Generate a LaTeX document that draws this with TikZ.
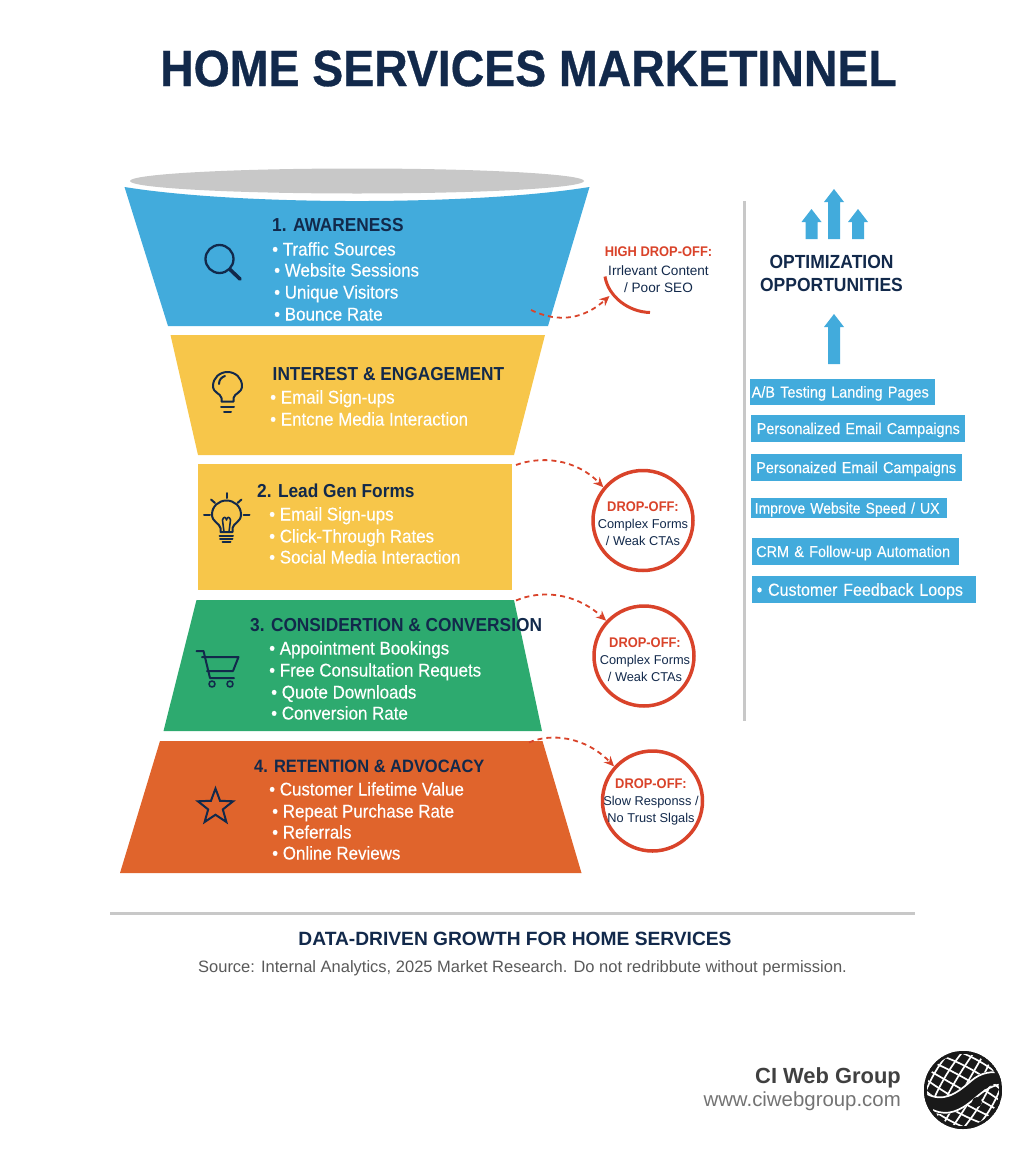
\documentclass[tikz,border=0pt]{standalone}
\usepackage{fontspec}
\setmainfont{Liberation Sans}
\newfontfamily\titlefont[FakeStretch=0.91,FakeBold=0.6]{Liberation Sans}
\newfontfamily\headfont[FakeStretch=0.92]{Liberation Sans}
\newfontfamily\bulletfont[FakeStretch=0.92,FakeBold=0.25]{Liberation Sans}
\usetikzlibrary{shapes.geometric,arrows.meta}
\definecolor{navy}{HTML}{12294B}
\definecolor{funnelblue}{HTML}{42ABDC}
\definecolor{funnelyellow}{HTML}{F7C64A}
\definecolor{funnelgreen}{HTML}{2DAA6F}
\definecolor{funnelorange}{HTML}{E0642C}
\definecolor{dropred}{HTML}{D9432A}
\definecolor{rulegray}{HTML}{C8C8C8}
\tikzset{
  stagehead/.style={anchor=west,inner sep=0pt,text=navy,text height=13pt,text depth=0pt,font=\headfont\bfseries\fontsize{18.8}{22}\selectfont},
  bulletline/.style={anchor=west,inner sep=0pt,text=white,text height=13pt,text depth=0pt,font=\bulletfont\fontsize{18.4}{20}\selectfont},
  icon/.style={draw=navy,line width=2pt,line cap=round,line join=round},
  dropline/.style={draw=dropred,line width=1.8pt,dash pattern=on 5pt off 4pt,-{Stealth[length=10pt,width=9pt]}},
  dropcircle/.style={circle,draw=dropred,line width=3.5pt,fill=white,minimum size=100pt,inner sep=0pt},
  droptext/.style={align=center,text=navy,inner sep=0pt,font=\fontsize{12.8}{17}\selectfont},
  drophead/.style={text=dropred,font=\headfont\bfseries\fontsize{14}{17}\selectfont},
  optbox/.style n args={3}{anchor=west,fill=funnelblue,text=white,inner ysep=0pt,inner xsep=#3,text width=#1,text height=11pt,text depth=0pt,minimum height=#2,font=\bulletfont\fontsize{15.7}{18}\selectfont},
}
\begin{document}
\begin{tikzpicture}[x=1pt,y=-1pt]
  \useasboundingbox (0,0) rectangle (1024,1154);
  \node[text=navy,font=\titlefont\bfseries\fontsize{51}{56}\selectfont] (title) at (528.5,68.5) {HOME SERVICES MARKETINNEL};

  \fill[rulegray] (357,181) ellipse (227 and 12.5);
  \fill[funnelblue] (124.5,187) .. controls (240,205.7) and (474,205.7) .. (589.5,187) -- (548,326) -- (168,326) -- cycle;
  \fill[funnelyellow] (170.5,335) -- (545,335) -- (514,455) -- (198,455) -- cycle;
  \fill[funnelyellow] (198,464) rectangle (512,590);
  \fill[funnelgreen] (196.5,600) -- (514,600) -- (542,731) -- (163.5,731) -- cycle;
  \fill[funnelorange] (160,741) -- (542.5,741) -- (581.5,873) -- (120,873) -- cycle;

  \node[stagehead] (awarehead) at (272,225) {1. AWARENESS};
  \node[bulletline] (awareone) at (272,249) {•\ Traffic Sources};
  \node[bulletline] (awaretwo) at (274,270) {•\ Website Sessions};
  \node[bulletline] (awarethree) at (274,292) {•\ Unique Visitors};
  \node[bulletline] (awarefour) at (274,314) {•\ Bounce Rate};

  \node[stagehead] (interesthead) at (272.5,374) {INTEREST \& ENGAGEMENT};
  \node[bulletline] (interestone) at (270,397) {•\ Email Sign-ups};
  \node[bulletline] (interesttwo) at (270,419) {•\ Entcne Media Interaction};

  \node[stagehead] (leadhead) at (257,491) {2. Lead Gen Forms};
  \node[bulletline] (leadone) at (269,514) {•\ Email Sign-ups};
  \node[bulletline] (leadtwo) at (269,536) {•\ Click-Through Rates};
  \node[bulletline] (leadthree) at (269,557) {•\ Social Media Interaction};

  \node[stagehead] (conshead) at (250,625) {3. CONSIDERTION \& CONVERSION};
  \node[bulletline] (consone) at (269,648) {•\ Appointment Bookings};
  \node[bulletline] (constwo) at (269,670) {•\ Free Consultation Requets};
  \node[bulletline] (consthree) at (271,692) {•\ Quote Downloads};
  \node[bulletline] (consfour) at (271,713) {•\ Conversion Rate};

  \node[stagehead,font=\headfont\bfseries\fontsize{17.9}{22}\selectfont] (retainhead) at (254,766) {4. RETENTION \& ADVOCACY};
  \node[bulletline] (retainone) at (269,789) {•\ Customer Lifetime Value};
  \node[bulletline] (retaintwo) at (272,811) {•\ Repeat Purchase Rate};
  \node[bulletline] (retainthree) at (272,832) {•\ Referrals};
  \node[bulletline] (retainfour) at (272,853) {•\ Online Reviews};

  \draw[icon,line width=2.3pt] (219.5,259) circle (14);
  \draw[icon,line width=3.6pt] (230,269.5) -- (240,279);

  \draw[icon] (221.5,401.5) -- (221.5,398) .. controls (220.5,393) and (213,393) .. (213,386) .. controls (213,378) and (219.5,372) .. (227.5,372) .. controls (235.5,372) and (242,378) .. (242,386) .. controls (242,393) and (234.5,393) .. (233.5,398) -- (233.5,401.5) -- cycle;
  \draw[icon] (219,384) .. controls (219,380) and (221.5,377) .. (225,376);
  \draw[icon] (221,406.5) -- (234,406.5);
  \draw[icon] (224,411.5) -- (231,411.5);

  \draw[icon] (220.5,532) -- (220.5,528) .. controls (219.5,523) and (212,522) .. (212,514.5) .. controls (212,506) and (219,500.5) .. (226.5,500.5) .. controls (234,500.5) and (241,506) .. (241,514.5) .. controls (241,522) and (233.5,523) .. (232.5,528) -- (232.5,532) -- cycle;
  \draw[icon,line width=1.6pt] (224,532) -- (222.5,520) .. controls (223.5,516) and (226,517) .. (226.5,520) .. controls (227,517) and (229.5,516) .. (230.5,520) -- (229,532);
  \draw[icon] (219.5,535.5) -- (233,535.5);
  \draw[icon] (220,538.5) -- (232.5,538.5);
  \draw[icon] (222.5,542) -- (230.5,542);
  \draw[icon] (226.5,493) -- (226.5,498);
  \draw[icon] (211,499.5) -- (215,503);
  \draw[icon] (241.5,499.5) -- (237.5,503);
  \draw[icon] (204,514.5) -- (210,514.5);
  \draw[icon] (243.5,514.5) -- (249.5,514.5);

  \draw[icon] (196.5,651) -- (203.5,651) -- (210,678) -- (234,678);
  \draw[icon] (202,657) -- (238.5,657) -- (233,671) -- (207,671);
  \draw[icon,line width=1.6pt] (212,684) circle (3);
  \draw[icon,line width=1.6pt] (230,684) circle (3);

  \node[star,star points=5,star point ratio=2.4,draw=navy,line width=2pt,minimum size=37pt,inner sep=0pt] (staricon) at (215.5,807) {};

  \coordinate (awarestart) at (531,310);
  \coordinate (awaretip) at (609.5,296);
  \draw[dropline] (awarestart) .. controls (560,324) and (585,318) .. (awaretip);
  \draw[dropred,line width=3pt] (605,276.5) .. controls (608,296) and (628,312) .. (650,312.5);
  \node[drophead,inner sep=0pt] (highhead) at (658.5,252) {HIGH DROP-OFF:};
  \node[droptext,font=\fontsize{13.6}{17}\selectfont] (hightext) at (658.5,279.5) {Irrlevant Content\\/ Poor SEO};

  \node[dropcircle] (dropa) at (643,520.5) {};
  \node[droptext] (dropatext) at (643,524) {{\headfont\bfseries\color{dropred}\fontsize{14}{17}\selectfont DROP-OFF:}\\Complex Forms\\/ Weak CTAs};
  \node[dropcircle] (dropb) at (644,656) {};
  \node[droptext] (dropbtext) at (645,660) {{\headfont\bfseries\color{dropred}\fontsize{14}{17}\selectfont DROP-OFF:}\\Complex Forms\\/ Weak CTAs};
  \node[dropcircle] (dropc) at (652.5,801) {};
  \node[droptext] (dropctext) at (651,801.5) {{\headfont\bfseries\color{dropred}\fontsize{14}{17}\selectfont DROP-OFF:}\\Slow Responss /\\No Trust Slgals};

  \coordinate (leadstart) at (516,465);
  \coordinate (consstart) at (516,600.5);
  \coordinate (retainstart) at (529,742.5);
  \draw[dropline] (leadstart) .. controls (540,456) and (575,458) .. (dropa.140);
  \draw[dropline] (consstart) .. controls (540,590) and (575,592) .. (dropb.137);
  \draw[dropline] (retainstart) .. controls (550,733) and (585,736) .. (dropc.138);

  \draw[rulegray,line width=3pt] (744,201) -- (744,721);

  \foreach \ax/\atip/\abase in {811.5/209/239,834/189/239,858/209/239,834/314/364}
    \fill[funnelblue] (\ax,\atip) -- (\ax+10,\atip+13) -- (\ax+6,\atip+13) -- (\ax+6,\abase) -- (\ax-6,\abase) -- (\ax-6,\atip+13) -- (\ax-10,\atip+13) -- cycle;

  \node[align=center,text=navy,inner sep=0pt,font=\headfont\bfseries\fontsize{19}{23}\selectfont] (opthead) at (831.5,273.5) {OPTIMIZATION\\OPPORTUNITIES};

  \node[optbox={182pt}{26.5pt}{1.5pt}] (abtest) at (750,392) {\mbox{A/B Testing Landing Pages}};
  \node[optbox={203pt}{26.5pt}{5.5pt}] (emailone) at (751,428.5) {\mbox{Personalized Email Campaigns}};
  \node[optbox={201pt}{26.5pt}{5pt}] (emailtwo) at (751,467.5) {\mbox{Personaized Email Campaigns}};
  \node[optbox={189pt}{20pt}{3.5pt},font=\bulletfont\fontsize{15.2}{18}\selectfont] (speed) at (751,508) {\mbox{Improve Website Speed / UX}};
  \node[optbox={199pt}{27pt}{4pt}] (crm) at (752,551.5) {\mbox{CRM \& Follow-up Automation}};
  \node[optbox={215pt}{27.5pt}{4.5pt},text height=12.5pt,font=\bulletfont\fontsize{17.4}{20}\selectfont] (feedback) at (752,589.5) {\mbox{•\ Customer Feedback Loops}};

  \draw[rulegray,line width=3pt] (110,913) -- (915,913);
  \node[text=navy,inner sep=0pt,font=\bfseries\fontsize{19.2}{23}\selectfont] (foothead) at (515,939) {DATA-DRIVEN GROWTH FOR HOME SERVICES};
  \node[text=black!65,inner sep=0pt,font=\fontsize{16.5}{19}\selectfont] (source) at (522.5,968) {Source: Internal Analytics, 2025 Market Research. Do not redribbute without permission.};

  \node[anchor=east,text=black!75,inner sep=0pt,font=\bfseries\fontsize{21.9}{26}\selectfont] (brand) at (901,1078) {CI Web Group};
  \node[anchor=east,text=black!55,inner sep=0pt,font=\fontsize{20.4}{24}\selectfont] (brandurl) at (901,1101) {www.ciwebgroup.com};

  \begin{scope}[shift={(963,1090)}]
    \clip (0,0) circle (39);
    \fill[black!90] (0,0) circle (39);
    \begin{scope}[rotate=-30]
      \foreach \m in {-36,-27,...,36} {
        \draw[white,line width=1.7pt] (\m,-40) .. controls (\m*1.3,-15) and (\m*1.3,15) .. (\m,40);
        \draw[white,line width=1.7pt] (-40,\m) .. controls (-15,\m*1.3) and (15,\m*1.3) .. (40,\m);
      }
    \end{scope}
    \fill[black!90] (-39,2) .. controls (-20,12) and (-8,4) .. (8,-10) .. controls (18,-19) and (30,-20) .. (39,-18) -- (39,-8) .. controls (25,-6) and (18,2) .. (8,12) .. controls (-5,24) and (-25,30) .. (-39,16) -- cycle;
    \draw[white,line width=1.7pt] (-36,4) .. controls (-20,12) and (-8,5) .. (8,-9) .. controls (18,-18) and (30,-19) .. (39,-17);
    \fill[black!90] (-36,9) .. controls (-20,17) and (-8,9) .. (8,-4) .. controls (18,-13) and (30,-14) .. (39,-12) -- (39,-9) .. controls (25,-7) and (18,1) .. (8,10) .. controls (-5,22) and (-25,24) .. (-36,9) -- cycle;
    \draw[white,line width=1.7pt] (-30,20) .. controls (-15,27) and (-2,20) .. (10,10) .. controls (18,3) and (26,-4) .. (39,-6);
    \fill[black!90] (14,12) circle (5);
    \draw[black!90,line width=3.5pt] (0,0) circle (38);
  \end{scope}
\end{tikzpicture}
\end{document}
